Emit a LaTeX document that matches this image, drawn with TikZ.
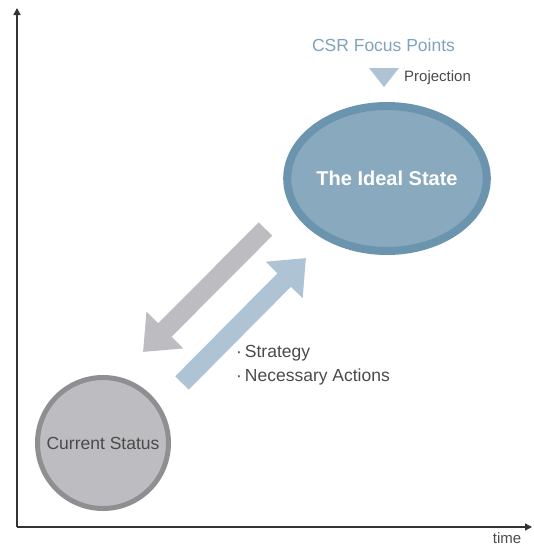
\documentclass[tikz,border=0pt]{standalone}
\usepackage{fontspec}
\setmainfont{Liberation Sans}
\usepackage{tikz}
\usetikzlibrary{positioning,shapes.geometric,arrows.meta}

\definecolor{axiscol}{HTML}{333333}
\definecolor{textcol}{HTML}{4A4A4A}
\definecolor{graycol}{HTML}{BDBDC1}
\definecolor{grayline}{HTML}{8F8F92}
\definecolor{bluecol}{HTML}{88A9BE}
\definecolor{blueline}{HTML}{6B94AF}
\definecolor{lightblue}{HTML}{AEC4D5}
\definecolor{focuscol}{HTML}{7FA3BB}

\begin{document}
\begin{tikzpicture}[%
    x=1pt,
    y=-1pt,
    axis/.style={%
      draw=axiscol,
      line width=1.4pt,
      -{Triangle[length=7pt,width=7pt]}
    },
    status/.style={%
      circle,
      minimum size=131pt,
      inner sep=0pt,
      fill=graycol,
      draw=grayline,
      line width=5pt,
      text=textcol,
      font=\fontsize{17.5}{20}\selectfont
    },
    ideal/.style={%
      ellipse,
      minimum width=184pt,
      minimum height=145pt,
      inner sep=0pt,
      fill=bluecol,
      draw=blueline,
      line width=8pt,
      text=white,
      font=\bfseries\fontsize{20}{24}\selectfont
    },
    fatarrow/.style={%
      line width=19pt,
      -{Triangle[length=31pt,width=50pt]}
    },
    label/.style={%
      inner sep=0pt,
      text=textcol,
      font=\fontsize{17.5}{21}\selectfont
    }
  ]
    \useasboundingbox (0,0) rectangle (534,547);

    % axes
    \coordinate (origin) at (17,527);
    \coordinate (ytop)   at (17,8);
    \coordinate (xend)   at (532,527);
    \draw[axis] (origin) -- (ytop);
    \draw[axis] (origin) -- (xend);
    \node[label, font=\fontsize{15}{18}\selectfont] (time) at (507,538) {time};

    % the two states
    \node[status] (cur)   at (103,443) {Current Status};
    \node[ideal]  (ideal) at (387,178.5) {The Ideal State};

    % focus points and projection mark
    \node[label, text=focuscol] (focus) at (383.5,45) {CSR Focus Points};
    \coordinate (tri) at (384,87);
    \fill[lightblue] (tri) -- ++(-15,-19) -- ++(30,0) -- cycle;
    \node[label, anchor=west, font=\fontsize{15}{18}\selectfont] (proj) at (404,78) {Projection};

    % arrows between the states
    \coordinate (g1) at (265.5,229);
    \coordinate (g2) at (143,352);
    \coordinate (b1) at (182,383);
    \coordinate (b2) at (306,258);
    \draw[fatarrow, graycol] (g1) -- (g2);
    \draw[fatarrow, lightblue] (b1) -- (b2);

    \node[label, anchor=west] (strat) at (236,353) {·\,Strategy};
    \node[label, below=7pt of strat.south west, anchor=north west] (act) {·\,Necessary Actions};
\end{tikzpicture}
\end{document}
